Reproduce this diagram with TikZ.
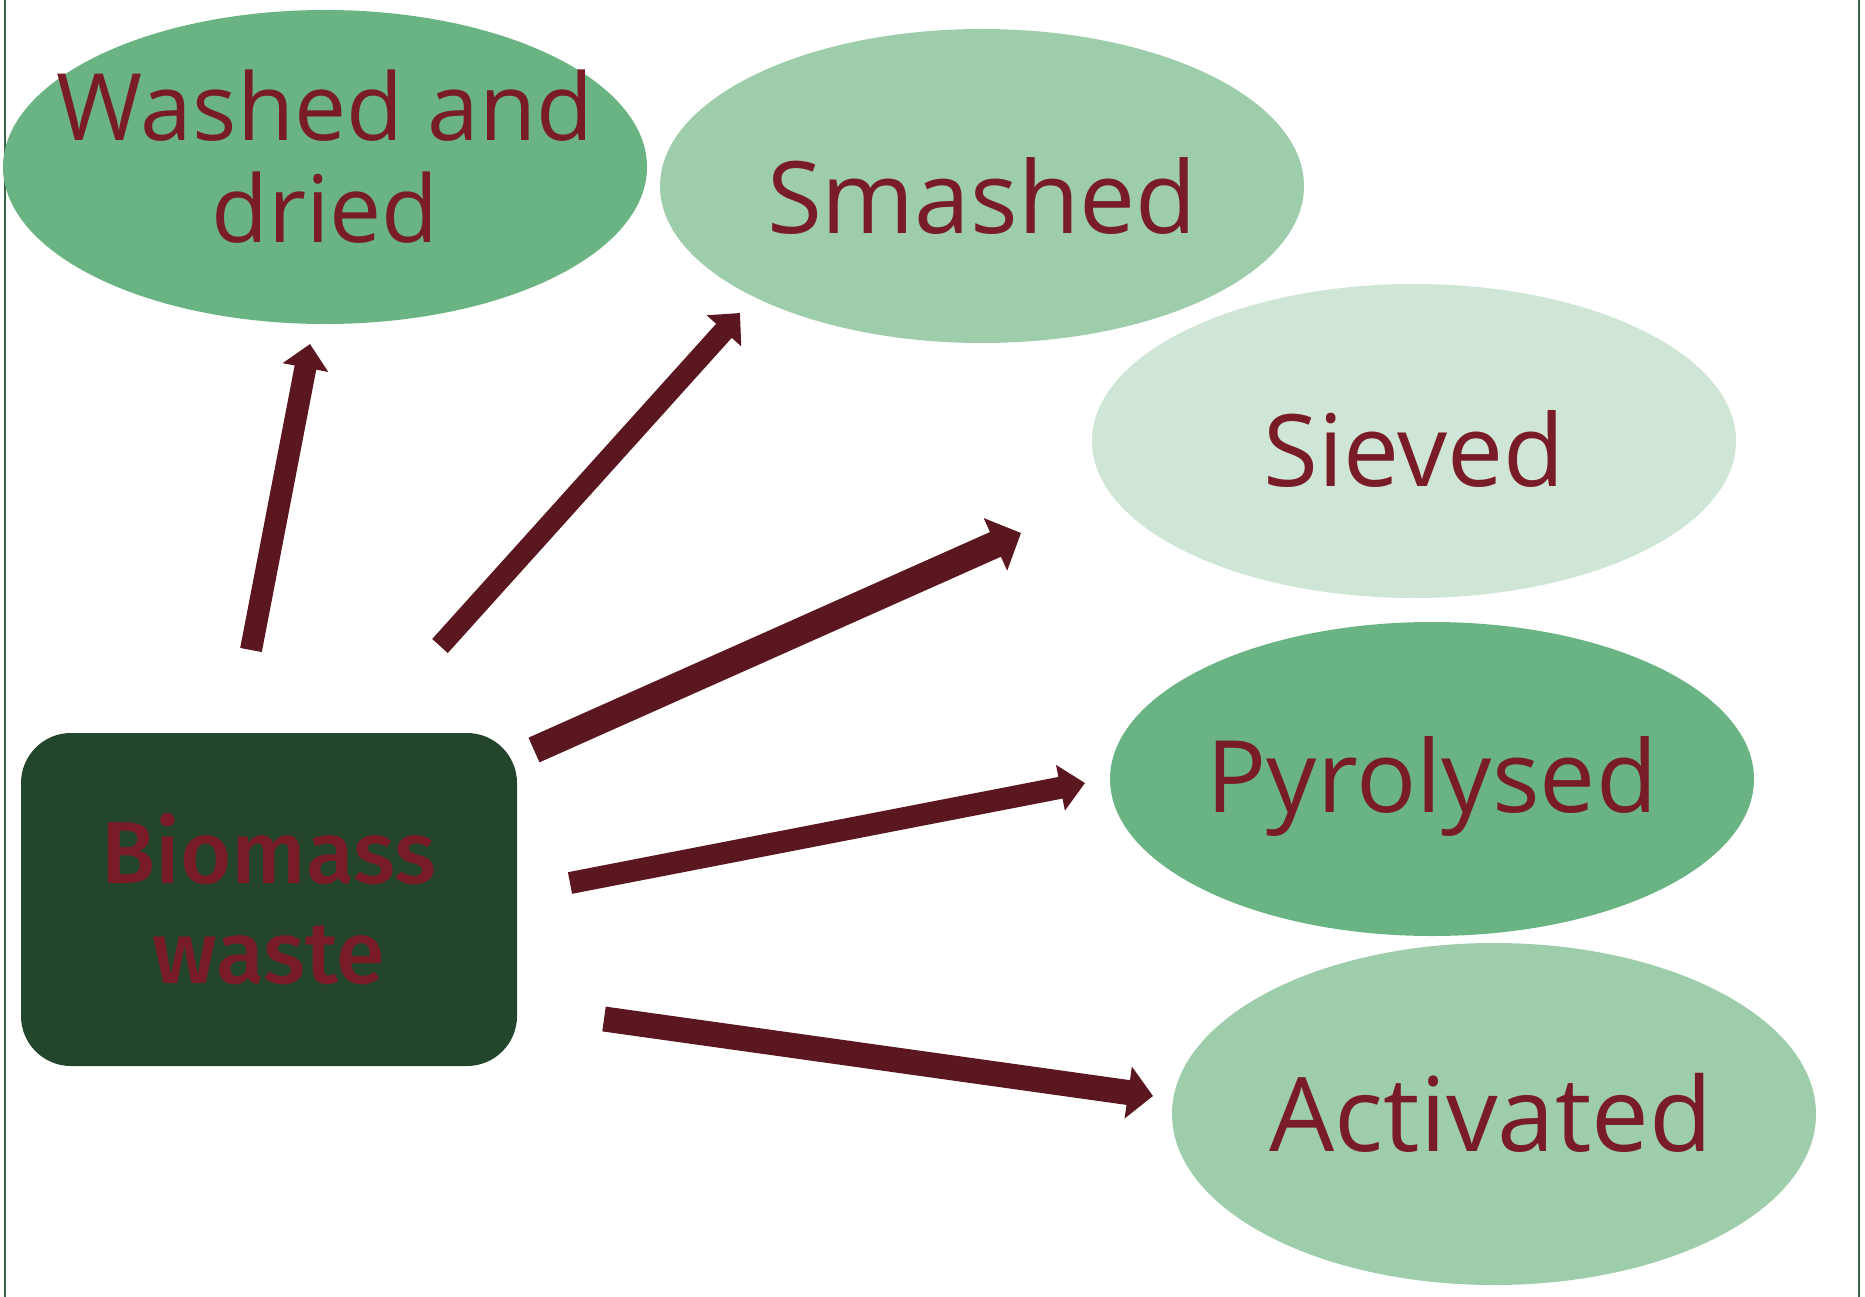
\documentclass[tikz,border=0pt]{standalone}
\usepackage{fontspec}
\setmainfont{Open Sans}
\newfontfamily\biofont{Fira Sans}[UprightFont={* Medium}]
\usetikzlibrary{arrows.meta,shapes.geometric}
\definecolor{midg}{HTML}{69B482}
\definecolor{lightg}{HTML}{9DCDAA}
\definecolor{paleg}{HTML}{CFE6D6}
\definecolor{boxg}{HTML}{22452C}
\definecolor{txtr}{HTML}{7A1C28}
\definecolor{arrc}{HTML}{5A1720}
\definecolor{bord}{HTML}{356646}
\tikzset{
  ell/.style={ellipse, inner sep=0pt, minimum width=644pt, minimum height=314pt},
  etext/.style={inner sep=0pt, text=txtr, align=center, font=\fontsize{100}{102}\selectfont},
  biobox/.style={rectangle, rounded corners=50pt, fill=boxg, inner sep=0pt,
    minimum width=496pt, minimum height=333pt, text=txtr, align=center,
    font=\biofont\fontsize{88}{100}\selectfont},
  arr/.style={draw=arrc, line width=#1},
}
\begin{document}
\begin{tikzpicture}[x=1pt,y=-1pt]
\useasboundingbox (0,0) rectangle (1865,1297);
\fill[white] (0,0) rectangle (1865,1297);
\draw[bord, line width=2pt] (4.5,0) -- (4.5,1297);
\draw[bord, line width=2pt] (1859,0) -- (1859,1297);

\node[ell, fill=midg] (washed) at (325,167) {};
\node[ell, fill=paleg] (sieved) at (1414,441) {};
\node[ell, fill=lightg] (smashed) at (982,186) {};
\node[ell, fill=midg] (pyro) at (1432,779) {};
\node[ell, fill=lightg, minimum height=342pt] (act) at (1494,1114) {};

\node[etext, font=\fontsize{93}{102}\selectfont] (washedt) at (325,157) {Washed and\\dried};
\node[etext] (smashedt) at ([yshift=-10pt]smashed.center) {Smashed};
\node[etext] (sievedt) at ([yshift=-8pt]sieved.center) {Sieved};
\node[etext] (pyrot) at ([yshift=-8pt]pyro.center) {Pyrolysed};
\node[etext, font=\fontsize{103}{105}\selectfont] (actt) at (1491,1113) {Activated};

\node[biobox] (bio) at (269,899.5) {Biomass\\waste};

\coordinate (a1s) at (251,650);  \coordinate (a1e) at (310,344);
\coordinate (a2s) at (440,646);  \coordinate (a2e) at (740,313);
\coordinate (a3s) at (534,750);  \coordinate (a3e) at (1021,533);
\coordinate (a4s) at (570,883);  \coordinate (a4e) at (1085,783);
\coordinate (a5s) at (604,1019); \coordinate (a5e) at (1153,1096);

\draw[arr=22pt, -{Triangle[width=45pt,length=24pt]}] (a1s) -- (a1e);
\draw[arr=21pt, -{Triangle[width=45pt,length=24pt]}] (a2s) -- (a2e);
\draw[arr=27pt, -{Triangle[width=56pt,length=28pt]}] (a3s) -- (a3e);
\draw[arr=22pt, -{Triangle[width=45pt,length=25pt]}] (a4s) -- (a4e);
\draw[arr=25pt, -{Triangle[width=51pt,length=25pt]}] (a5s) -- (a5e);
\end{tikzpicture}
\end{document}
